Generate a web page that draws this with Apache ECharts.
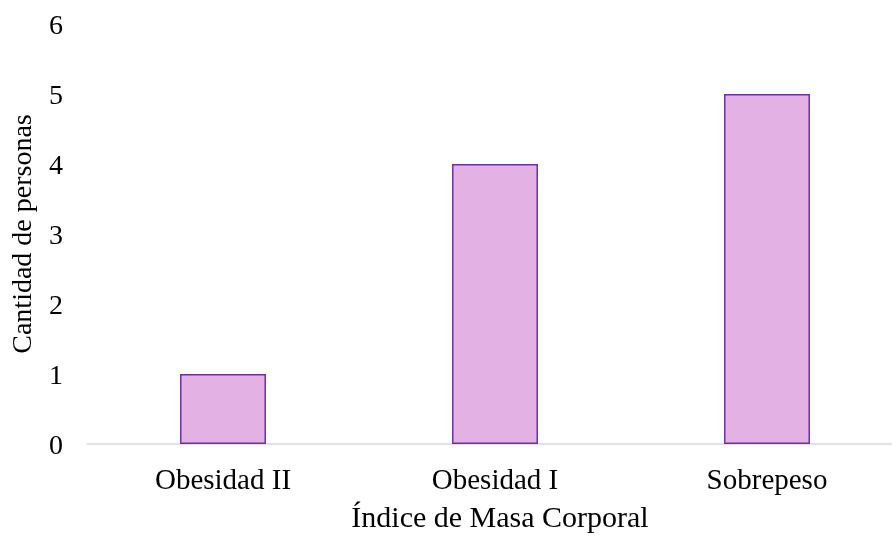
<!DOCTYPE html>
<html>
<head>
<meta charset="utf-8">
<script src="https://cdn.jsdelivr.net/npm/echarts@6/dist/echarts.min.js"></script>
<style>
  html, body { margin: 0; padding: 0; background: #fff; }
  #chart { width: 892px; height: 536px; }
</style>
</head>
<body>
<div id="chart"></div>
<script>
// Categorías de IMC y número de personas en cada una
const categorias = ['Obesidad II', 'Obesidad I', 'Sobrepeso'];
const personas = [1, 4, 5];
const ejeY = { min: 0, max: 6, interval: 1 };

const fuente = '"Liberation Serif", "Times New Roman", serif';

const chart = echarts.init(document.getElementById('chart'));
chart.setOption({
  animation: false,
  backgroundColor: '#ffffff',
  grid: {
    left: 87, top: 24, width: 816, height: 420,
    containLabel: false, outerBoundsMode: 'none'
  },
  xAxis: {
    type: 'category',
    data: categorias,
    name: 'Índice de Masa Corporal',
    nameLocation: 'middle',
    nameGap: 60,
    nameTextStyle: {
      fontFamily: fuente, fontSize: 30, color: '#000',
      padding: [0, 0, 0, 10]
    },
    axisLine: { show: true, lineStyle: { color: '#d9d9d9', width: 1.5 } },
    axisTick: { show: false },
    axisLabel: { fontFamily: fuente, fontSize: 29, color: '#000', margin: 23 }
  },
  yAxis: {
    type: 'value',
    min: ejeY.min,
    max: ejeY.max,
    interval: ejeY.interval,
    name: 'Cantidad de personas',
    nameLocation: 'middle',
    nameGap: 49,
    nameTextStyle: { fontFamily: fuente, fontSize: 28, color: '#000' },
    axisLine: { show: false },
    axisTick: { show: false },
    splitLine: { show: false },
    axisLabel: {
      margin: 24,
      formatter: '{n|{value}}',
      rich: {
        n: { fontFamily: fuente, fontSize: 28, color: '#000', padding: [5, 0, 0, 0] }
      }
    }
  },
  series: [{
    type: 'bar',
    data: personas,
    barWidth: '31.6%',
    itemStyle: { color: '#e3b1e3', borderColor: '#7030a0', borderWidth: 1.5 }
  }]
});
</script>
</body>
</html>
